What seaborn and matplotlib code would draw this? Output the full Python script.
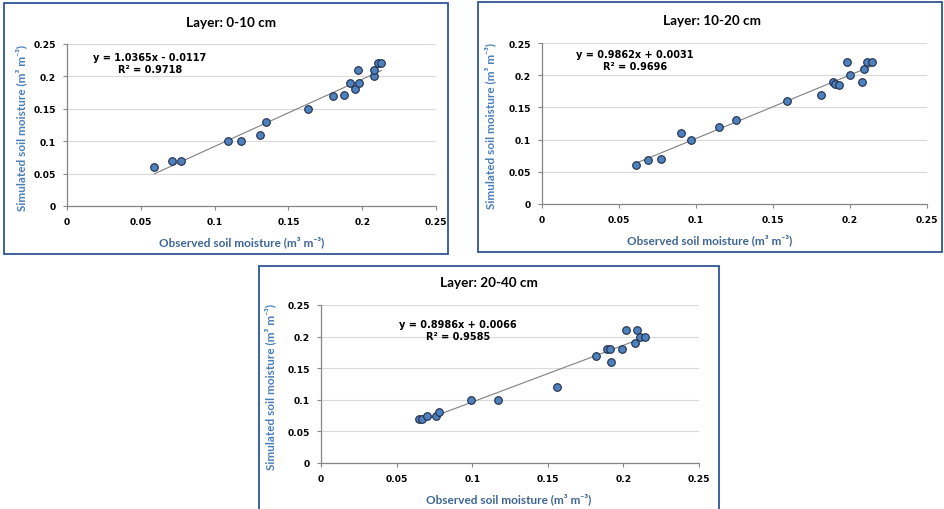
import matplotlib
matplotlib.use("Agg")
import matplotlib.pyplot as plt
import seaborn as sns
import pandas as pd
import numpy as np
from matplotlib.patches import Rectangle

# ---- data ----
layer_titles = ["Layer: 0-10 cm", "Layer: 10-20 cm", "Layer: 20-40 cm"]

obs_0_10 = [0.059, 0.071, 0.077, 0.109, 0.118, 0.131, 0.135, 0.163, 0.180, 0.188,
            0.192, 0.195, 0.197, 0.198, 0.208, 0.208, 0.211, 0.213]
sim_0_10 = [0.060, 0.070, 0.070, 0.100, 0.100, 0.110, 0.130, 0.150, 0.170, 0.172,
            0.190, 0.180, 0.210, 0.190, 0.200, 0.210, 0.220, 0.220]

obs_10_20 = [0.061, 0.069, 0.077, 0.090, 0.097, 0.115, 0.126, 0.159, 0.181, 0.189,
             0.190, 0.193, 0.198, 0.200, 0.208, 0.209, 0.211, 0.214]
sim_10_20 = [0.060, 0.068, 0.070, 0.110, 0.100, 0.120, 0.130, 0.160, 0.170, 0.190,
             0.187, 0.185, 0.220, 0.200, 0.190, 0.210, 0.220, 0.220]

obs_20_40 = [0.065, 0.067, 0.070, 0.076, 0.078, 0.099, 0.117, 0.156, 0.182, 0.189,
             0.191, 0.192, 0.199, 0.202, 0.208, 0.209, 0.211, 0.214]
sim_20_40 = [0.070, 0.070, 0.075, 0.075, 0.080, 0.100, 0.100, 0.120, 0.170, 0.180,
             0.180, 0.160, 0.180, 0.210, 0.190, 0.210, 0.200, 0.200]

slopes = [1.0365, 0.9862, 0.8986]
intercepts = [-0.0117, 0.0031, 0.0066]
eq_texts = ["y = 1.0365x - 0.0117\nR\u00b2 = 0.9718",
            "y = 0.9862x + 0.0031\nR\u00b2 = 0.9696",
            "y = 0.8986x + 0.0066\nR\u00b2 = 0.9585"]

tick_vals = [0, 0.05, 0.1, 0.15, 0.2, 0.25]
tick_labels = ["0", "0.05", "0.1", "0.15", "0.2", "0.25"]

xlabel = "Observed soil moisture (m\u00b3 m\u207b\u00b3)"
ylabel = "Simulated soil moisture (m\u00b3 m\u207b\u00b3)"

# ---- styling ----
sns.set_theme(style="white")
plt.rcParams['font.family'] = ['DejaVu Sans']

W, H = 944, 510
fig = plt.figure(figsize=(W / 100, H / 100), dpi=100)
fig.patch.set_facecolor("white")

def fx(px):
    return px / W

def fy(py):
    return 1 - py / H

# axes rectangles in pixel coords (left, top, right, bottom)
axes_px = [(67, 45, 436, 207), (542, 44, 927, 205), (321, 306, 699, 464)]
frames_px = [(4, 4, 448, 255), (478, 3, 942, 253), (259, 267, 719, 530)]
title_px = [(231, 23), (712, 21), (489, 283)]
eq_px = [(150, 64), (635, 61), (458, 331)]
xlab_frac = [0.474, 0.436, 0.497]
ylab_frac = [-0.125, -0.135, -0.135]

datasets = [(obs_0_10, sim_0_10), (obs_10_20, sim_10_20), (obs_20_40, sim_20_40)]

frame_color = "#2F5597"
label_font = ['Lato', 'DejaVu Sans']

for i in range(3):
    l, t, r, b = frames_px[i]
    fig.patches.append(Rectangle((fx(l), fy(b)), fx(r - l), (b - t) / H,
                                 transform=fig.transFigure, fill=False,
                                 edgecolor=frame_color, linewidth=1.3, zorder=0))

for i in range(3):
    l, t, r, b = axes_px[i]
    ax = fig.add_axes([fx(l), fy(b), fx(r - l), (b - t) / H])
    obs, sim = datasets[i]
    df = pd.DataFrame({"obs": obs, "sim": sim})

    # trendline over data range
    xs = np.array([min(obs), max(obs)])
    ax.plot(xs, slopes[i] * xs + intercepts[i], color="#808080", lw=0.8, zorder=2)

    sns.scatterplot(data=df, x="obs", y="sim", ax=ax, s=30, color="#4F81BD",
                    edgecolor="#1F2D4A", linewidth=0.8, zorder=3, legend=False)

    ax.set_xlim(0, 0.25)
    ax.set_ylim(0, 0.25)
    ax.set_xticks(tick_vals)
    ax.set_xticklabels(tick_labels)
    ax.set_yticks(tick_vals)
    ax.set_yticklabels(tick_labels)
    ax.yaxis.grid(True, color="#D9D9D9", lw=0.8)
    ax.xaxis.grid(False)
    ax.set_axisbelow(True)
    for s in ["top", "right"]:
        ax.spines[s].set_visible(False)
    for s in ["left", "bottom"]:
        ax.spines[s].set_color("#868686")
        ax.spines[s].set_linewidth(0.9)
    ax.tick_params(axis="both", which="major", direction="out", length=3,
                   width=0.8, color="#868686", labelsize=6.6, labelcolor="black",
                   bottom=True, left=True)
    ax.tick_params(axis="x", pad=5)
    ax.tick_params(axis="y", pad=5)
    for lab in ax.get_xticklabels() + ax.get_yticklabels():
        lab.set_fontweight("bold")

    ax.set_xlabel(xlabel, fontsize=8.5, fontweight="bold", color="#3D6594",
                  family=label_font)
    ax.xaxis.label.set_va("center")
    ax.xaxis.set_label_coords(xlab_frac[i], -35 / (b - t))
    ax.set_ylabel(ylabel, fontsize=8.5, fontweight="bold", color="#4A7EBB",
                  family=label_font)
    ax.yaxis.label.set_va("center")
    ax.yaxis.set_label_coords(ylab_frac[i], 0.49)

    ex, ey = eq_px[i]
    fig.text(fx(ex), fy(ey), eq_texts[i], ha="center", va="center",
             fontsize=7, fontweight="bold", color="black", linespacing=1.35)

    tx, ty = title_px[i]
    fig.text(fx(tx), fy(ty), layer_titles[i], ha="center", va="center",
             fontsize=9.7, fontweight="bold", color="black", family=label_font)

fig.savefig("out.png", dpi=100, facecolor="white")
